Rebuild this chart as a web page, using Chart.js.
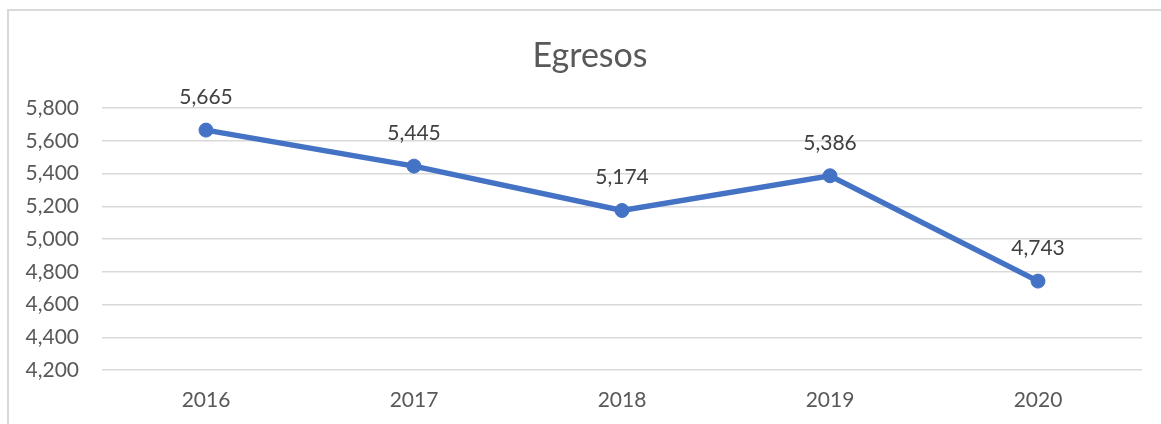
<!DOCTYPE html>
<html>
<head>
<meta charset="utf-8">
<script src="https://cdn.jsdelivr.net/npm/chart.js@4.4.1/dist/chart.umd.min.js"></script>
<style>
    html, body { margin: 0; padding: 0; background: #fff; }
    #wrap { position: relative; width: 1161px; height: 424px; overflow: hidden; }
    #frame {
        position: absolute; left: 7px; top: 9px; width: 1200px; height: 500px;
        border-left: 2px solid #d9d9d9; border-top: 2px solid #d9d9d9;
    }
    canvas { position: absolute; left: 0; top: 0; }
</style>
</head>
<body>
<div id="wrap">
    <div id="frame"></div>
    <canvas id="chart" width="1161" height="424"></canvas>
</div>
<script>
const years = ["2016", "2017", "2018", "2019", "2020"]
const egresos = [5665, 5445, 5174, 5386, 4743]
const yMin = 4200
const yMax = 5800
const yStep = 200
const chartTitle = "Egresos"

const fmt = v => v.toLocaleString("en-US")

// labels drawn above each point
const valueLabels = {
    id: "valueLabels",
    afterDatasetsDraw(chart) {
        const ctx = chart.ctx
        const meta = chart.getDatasetMeta(0)
        ctx.save()
        ctx.font = "21px Lato"
        ctx.fillStyle = "#404040"
        ctx.textAlign = "center"
        ctx.textBaseline = "middle"
        meta.data.forEach((pt, i) => {
            ctx.fillText(fmt(egresos[i]), pt.x, pt.y - 33)
        })
        ctx.restore()
    }
}

// title centred on the chart frame rather than the canvas
const frameTitle = {
    id: "frameTitle",
    afterDraw(chart) {
        const ctx = chart.ctx
        ctx.save()
        ctx.font = "34px Lato"
        ctx.fillStyle = "#595959"
        ctx.textAlign = "center"
        ctx.textBaseline = "middle"
        ctx.fillText(chartTitle, (chart.chartArea.left + chart.chartArea.right) / 2 - 32, 56)
        ctx.restore()
    }
}

new Chart(document.getElementById("chart"), {
    type: "line",
    data: {
        labels: years,
        datasets: [
            {
                label: chartTitle,
                data: egresos,
                borderColor: "#4472C4",
                backgroundColor: "#4472C4",
                borderWidth: 5.5,
                pointRadius: 7,
                pointBorderWidth: 1,
                pointHoverRadius: 7,
                tension: 0
            }
        ]
    },
    options: {
        responsive: false,
        animation: false,
        layout: { padding: { left: 0, right: 19, top: 108, bottom: 10 } },
        plugins: {
            legend: { display: false },
            tooltip: { enabled: false },
            title: { display: false }
        },
        scales: {
            x: {
                offset: true,
                afterFit: s => { s.height = 44 },
                grid: { display: false, drawTicks: false },
                border: { display: false },
                ticks: {
                    color: "#595959",
                    font: { family: "Lato", size: 21 },
                    padding: 18
                }
            },
            y: {
                min: yMin,
                max: yMax,
                afterFit: s => { s.width = 102 },
                grid: { color: "#d9d9d9", lineWidth: 1.5, drawTicks: false },
                border: { display: false },
                ticks: {
                    stepSize: yStep,
                    color: "#595959",
                    font: { family: "Lato", size: 21 },
                    padding: 23,
                    callback: v => fmt(v)
                }
            }
        }
    },
    plugins: [valueLabels, frameTitle]
})
</script>
</body>
</html>
